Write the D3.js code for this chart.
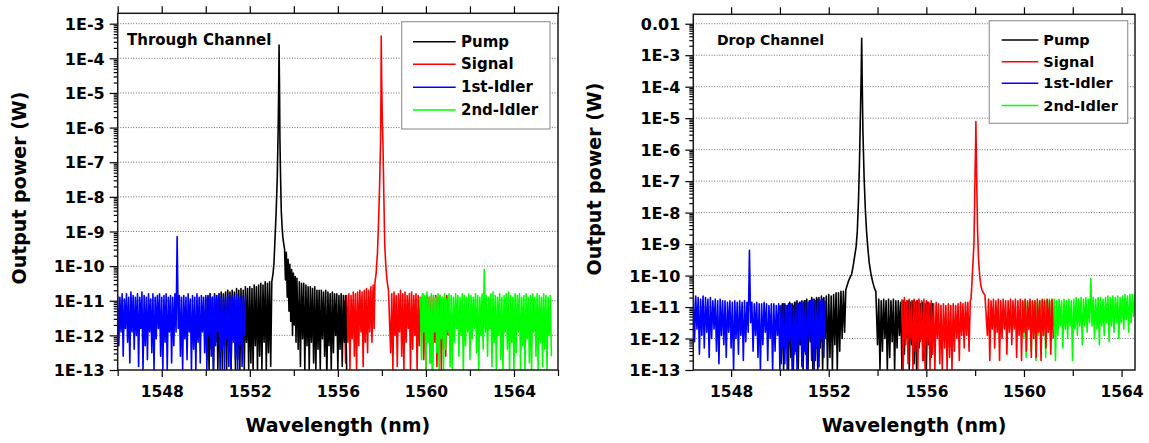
<!DOCTYPE html>
<html>
<head>
<meta charset="utf-8">
<script src="https://cdn.jsdelivr.net/npm/d3@7/dist/d3.min.js"></script>
<style>
  body { margin: 0; background: #fff; }
  text { font-family: "DejaVu Sans", Verdana, sans-serif; font-weight: bold; fill: #000; }
</style>
</head>
<body>
<svg id="chart" width="1149" height="443"></svg>
<script>
// sample spacing of the noise floor (nm)
const STEP = 0.05;

const seriesNames = ['Pump', 'Signal', '1st-Idler', '2nd-Idler'];
const seriesColors = ['#000000', '#ff0000', '#0000ff', '#00ff00'];

const xMajor = [1548, 1552, 1556, 1560, 1564];
const xMinor = [1546, 1550, 1554, 1558, 1562, 1566];
const thYLabels = ['1E-13', '1E-12', '1E-11', '1E-10', '1E-9', '1E-8', '1E-7', '1E-6', '1E-5', '1E-4', '1E-3'];
const drYLabels = ['1E-13', '1E-12', '1E-11', '1E-10', '1E-9', '1E-8', '1E-7', '1E-6', '1E-5', '1E-4', '1E-3', '0.01'];

// ---- Through channel, values are log10(power in W) ----
const thBlue = { start: 1546.0, log: [
  -10.85,-12.3,-10.9,-11.9,-10.8,-12.6,-10.95,-11.8,-10.8,-12.2,
  -10.9,-12.8,-10.75,-11.9,-10.85,-12.4,-10.9,-12.0,-10.8,-12.9,
  -10.9,-11.8,-10.75,-13.0,-10.85,-12.3,-10.9,-12.7,-10.8,-11.9,
  -10.95,-12.5,-10.8,-13.0,-10.9,-12.1,-10.85,-11.8,-10.8,-12.6,
  -10.9,-13.0,-10.85,-12.2,-10.8,-13.0,-10.9,-11.9,-10.85,-12.8,
  -10.9,-12.3,-10.8,-11.9,-9.15,-11.8,-10.85,-12.6,-10.9,-13.0,
  -10.85,-12.1,-10.9,-12.7,-10.8,-11.9,-10.95,-13.0,-10.85,-12.4,
  -10.9,-13.0,-10.8,-12.2,-10.9,-12.8,-10.85,-11.9,-10.9,-12.5,
  -10.85,-13.0,-10.9,-12.0,-10.8,-12.6,-10.9,-13.0,-10.85,-12.3,
  -10.9,-11.9,-10.8,-13.0,-10.9,-12.4,-10.85,-13.0,-10.9,-12.1,
  -10.8,-12.9,-10.9,-13.0,-10.85,-12.2,-10.9,-12.7,-10.8,-13.0,
  -10.9,-12.3,-10.85,-12.9,-10.9,-12.0,-10.85] };

const thPumpL = { start: 1550.0, log: [
  -10.9,-12.7,-10.85,-13.0,-10.8,-12.4,-10.9,-13.0,-10.8,-12.2,
  -10.85,-13.0,-10.8,-12.6,-10.75,-13.0,-10.8,-12.3,-10.75,-13.0,
  -10.7,-12.5,-10.75,-13.0,-10.7,-12.1,-10.75,-13.0,-10.65,-12.7,
  -10.7,-13.0,-10.65,-12.4,-10.7,-13.0,-10.6,-12.2,-10.65,-13.0,
  -10.6,-12.8,-10.65,-13.0,-10.55,-12.3,-10.6,-13.0,-10.55,-12.6,
  -10.5,-13.0,-10.55,-12.2,-10.45,-13.0,-10.5,-12.5,-10.45,-12.9] };
const thPumpPeak = [[1553.00,-10.45],[1553.06,-10.2],[1553.10,-9.9],[1553.14,-9.3],[1553.20,-8.4],
  [1553.25,-7.4],[1553.29,-6.0],[1553.31,-5.0],[1553.33,-3.62],[1553.35,-4.8],[1553.37,-6.4],
  [1553.40,-7.5],[1553.43,-8.4],[1553.47,-8.9],[1553.50,-9.15],[1553.54,-9.35],[1553.58,-9.5],
  [1553.62,-10.4],[1553.66,-9.6],[1553.70,-10.9],[1553.74,-9.8],[1553.78,-11.3],[1553.82,-9.95],
  [1553.86,-11.6],[1553.90,-10.1],[1553.94,-12.0],[1553.98,-10.2],[1554.02,-11.7],[1554.06,-10.3],
  [1554.10,-12.2],[1554.14,-10.35]];
const thPumpR = { start: 1554.2, log: [
  -12.4,-10.45,-12.9,-10.5,-12.1,-10.5,-13.0,-10.55,-12.3,-10.6,
  -13.0,-10.6,-12.2,-10.65,-12.8,-10.6,-13.0,-10.7,-12.4,-10.7,
  -13.0,-10.7,-12.1,-10.75,-12.6,-10.7,-13.3,-10.75,-12.3,-10.8,
  -13.0,-10.75,-12.5,-10.8,-12.0,-10.8,-13.0,-10.85,-12.4,-10.8,
  -12.9,-10.85,-12.2,-10.85,-13.0] };

const thRedL = { start: 1556.3, log: [
  -11.0,-12.8,-10.85,-12.2,-10.8,-13.0,-10.85,-12.1,-10.75,-12.6,
  -10.8,-13.0,-10.75,-12.3,-10.7,-11.9,-10.75,-12.9,-10.7,-12.2,
  -10.65,-12.5,-10.7,-11.9,-10.6,-12.2,-10.55,-11.8] };
const thRedPeak = [[1557.68,-10.5],[1557.74,-10.2],[1557.80,-9.6],[1557.85,-8.7],[1557.90,-7.6],
  [1557.94,-6.4],[1557.96,-5.0],[1557.97,-3.36],[1557.99,-4.6],[1558.02,-5.8],[1558.05,-6.5],
  [1558.09,-8.0],[1558.13,-9.4],[1558.18,-10.0],[1558.24,-10.45],[1558.30,-10.7]];
const thRedR = { start: 1558.4, log: [
  -12.5,-10.8,-13.0,-10.75,-12.0,-10.85,-12.9,-10.8,-11.9,-10.7,
  -12.6,-10.8,-13.0,-10.75,-12.2,-10.85,-11.8,-10.8,-13.0,-10.75,
  -12.4,-10.85,-12.0,-10.8,-13.0,-10.85,-12.3,-10.9,-11.9,-10.8,
  -12.7,-10.9,-13.0,-10.85,-12.1,-10.9,-12.8,-10.85,-13.0,-10.9,
  -12.2,-10.85,-12.9,-10.9,-11.9,-10.85,-13.0,-10.9,-12.4,-10.9,
  -12.6,-10.85,-12.0] };

const thGreen = { start: 1559.75, log: [
  -10.9,-12.7,-10.8,-11.9,-10.85,-13.0,-10.75,-12.2,-10.9,-12.8,
  -10.8,-13.0,-10.85,-11.9,-10.9,-12.5,-10.8,-13.0,-10.85,-12.1,
  -10.9,-13.0,-10.8,-12.4,-10.95,-11.9,-10.8,-12.9,-10.85,-13.0,
  -10.9,-12.2,-10.8,-11.8,-10.85,-12.6,-10.9,-12.0,-10.8,-13.0,
  -10.85,-12.3,-10.9,-11.9,-10.8,-12.7,-10.85,-12.1,-10.9,-11.8,
  -10.8,-12.5,-10.85,-13.0,-10.9,-12.0,-10.8,-12.4,-10.1,-11.9,
  -10.85,-12.6,-10.9,-11.8,-10.8,-12.9,-10.75,-12.2,-10.85,-13.0,
  -10.9,-12.0,-10.8,-12.7,-10.9,-13.0,-10.85,-11.9,-10.8,-12.4,
  -10.75,-13.0,-10.85,-12.2,-10.9,-13.0,-10.8,-12.5,-10.85,-11.9,
  -10.8,-13.0,-10.9,-12.3,-10.85,-13.0,-10.8,-12.1,-10.9,-12.8,
  -10.85,-13.0,-10.8,-11.9,-10.9,-12.6,-10.8,-13.0,-10.85,-12.2,
  -10.9,-12.9,-10.8,-12.4,-10.85,-13.0,-10.9,-12.0,-10.85,-12.6] };

// ---- Drop channel ----
const drBlue = { start: 1546.45, log: [
  -10.7,-12.1,-10.65,-11.7,-10.7,-12.5,-10.75,-11.9,-10.65,-12.3,
  -10.7,-11.8,-10.75,-12.6,-10.7,-12.0,-10.8,-11.7,-10.75,-12.4,
  -10.8,-12.8,-10.75,-11.9,-10.8,-12.2,-10.8,-12.6,-10.85,-11.8,
  -10.8,-12.3,-10.85,-13.0,-10.8,-12.0,-10.85,-12.5,-10.8,-11.9,
  -10.85,-12.7,-10.8,-12.1,-10.85,-11.8,-9.2,-11.5,-10.85,-12.4,
  -10.9,-11.9,-10.85,-12.6,-10.9,-13.0,-10.9,-12.2,-10.85,-11.8,
  -10.9,-12.7,-10.95,-12.0,-10.9,-13.0,-10.9,-12.4,-10.95,-11.9,
  -10.9,-13.0,-10.95,-12.3,-10.9,-12.8,-10.95,-13.0,-10.9,-12.1,
  -10.9,-13.0,-10.95,-12.5,-10.85,-13.0,-10.9,-12.2,-10.85,-12.9,
  -10.85,-12.4,-10.8,-13.0,-10.85,-12.0,-10.8,-12.7,-10.75,-13.0,
  -10.8,-12.3,-10.75,-12.9,-10.8,-12.1,-10.75,-12.6,-10.8] };

const drPumpL = { start: 1550.0, log: [
  -10.95,-12.8,-10.9,-13.0,-10.9,-12.3,-10.95,-13.0,-10.85,-12.6,
  -10.9,-13.0,-10.85,-12.4,-10.8,-13.0,-10.85,-12.2,-10.8,-13.0,
  -10.8,-12.5,-10.75,-13.0,-10.8,-12.1,-10.7,-13.0,-10.75,-12.7,
  -10.7,-13.0,-10.7,-12.3,-10.65,-13.0,-10.7,-12.0,-10.65,-13.0,
  -10.6,-12.6,-10.65,-13.0,-10.6,-12.2,-10.55,-13.0,-10.55,-12.4,
  -10.5,-12.0,-10.5,-11.8] };
const drPumpPeak = [[1552.70,-10.45],[1552.76,-10.3],[1552.82,-10.15],[1552.88,-10.05],[1552.94,-9.95],
  [1553.00,-9.7],[1553.06,-9.4],[1553.12,-9.1],[1553.17,-8.6],[1553.22,-7.6],[1553.26,-6.4],
  [1553.30,-4.8],[1553.33,-3.6],[1553.35,-2.46],[1553.37,-3.7],[1553.40,-5.4],[1553.45,-6.9],
  [1553.50,-7.9],[1553.55,-8.6],[1553.60,-9.1],[1553.66,-9.6],[1553.73,-9.95],[1553.80,-10.2],
  [1553.87,-10.4],[1553.93,-10.5]];
const drPumpR = { start: 1554.0, log: [
  -12.2,-10.75,-13.0,-10.8,-12.4,-10.75,-12.0,-10.8,-13.0,-10.75,
  -12.6,-10.8,-12.1,-10.75,-13.0,-10.8,-12.3,-10.8,-11.9,-10.85,
  -13.0,-10.8,-12.5,-10.85,-12.0,-10.8,-13.0,-10.85,-12.2,-10.8,
  -12.8,-10.85,-13.0,-10.8,-12.3,-10.9,-12.0,-10.85,-12.7,-10.9,
  -13.0,-10.85,-12.2,-10.9,-12.6,-10.9,-12.0] };

const drRedL = { start: 1555.0, log: [
  -10.75,-13.0,-10.7,-12.2,-10.8,-12.8,-10.75,-12.0,-10.8,-13.0,
  -10.75,-12.4,-10.8,-13.0,-10.75,-12.1,-10.8,-12.7,-10.75,-13.0,
  -10.8,-12.2,-10.85,-13.0,-10.8,-12.5,-10.9,-13.0,-10.85,-12.0,
  -10.9,-12.8,-10.95,-13.0,-10.9,-12.3,-10.95,-13.0,-10.9,-12.6,
  -10.95,-13.0,-10.9,-12.4,-10.95,-12.0,-10.9,-12.7,-10.85,-11.9,
  -10.9,-12.3,-10.85,-11.9,-10.85,-12.4,-10.8] };
const drRedPeak = [[1557.83,-10.75],[1557.87,-10.2],[1557.91,-9.6],[1557.95,-9.0],[1557.98,-7.6],
  [1558.00,-6.6],[1558.02,-5.8],[1558.03,-5.11],[1558.05,-6.2],[1558.07,-7.3],[1558.10,-8.6],
  [1558.14,-9.5],[1558.18,-9.95],[1558.23,-10.3],[1558.28,-10.46],[1558.34,-10.55],[1558.40,-10.62]];
const drRedR = { start: 1558.5, log: [
  -11.9,-10.75,-12.7,-10.8,-11.7,-10.75,-12.3,-10.8,-11.8,-10.75,
  -12.7,-10.8,-12.0,-10.75,-11.7,-10.8,-12.5,-10.8,-11.8,-10.75,
  -12.2,-10.8,-11.7,-10.75,-12.6,-10.8,-11.9,-10.75,-12.7,-10.8,
  -11.8,-10.75,-12.4,-10.8,-11.7,-10.75,-12.6,-10.8,-12.0,-10.8,
  -12.6,-10.75,-11.8,-10.8,-12.7,-10.75,-11.9,-10.8,-12.3,-10.75,
  -11.8,-10.8,-12.5,-10.75,-12.0] };

const drGreen = { start: 1559.94, log: [
  -10.85,-12.0,-10.8,-12.6,-10.85,-11.7,-10.8,-12.4,-10.85,-11.8,
  -10.8,-12.7,-10.85,-11.9,-10.8,-12.2,-10.8,-11.7,-10.75,-12.6,
  -10.8,-11.8,-10.75,-12.1,-10.8,-11.6,-10.75,-12.7,-10.8,-11.9,
  -10.75,-11.6,-10.8,-12.3,-10.75,-11.7,-10.8,-12.0,-10.75,-11.6,
  -10.8,-12.7,-10.75,-11.7,-10.7,-11.9,-10.75,-11.6,-10.7,-12.2,
  -10.75,-11.6,-10.7,-11.8,-10.75,-11.5,-10.1,-11.6,-10.7,-12.0,
  -10.75,-11.7,-10.7,-12.2,-10.7,-11.6,-10.75,-11.9,-10.7,-11.5,
  -10.65,-12.1,-10.7,-11.6,-10.65,-11.8,-10.7,-11.5,-10.65,-12.0,
  -10.7,-11.5,-10.65,-11.7,-10.6,-11.4,-10.65,-11.8,-10.6,-11.5,
  -10.6,-11.3,-10.6] };

function buildSeries(segments, peak) {
  const pts = [];
  segments.forEach(seg => seg.log.forEach((v, i) => pts.push([+(seg.start + i * STEP).toFixed(3), v])));
  (peak || []).forEach(p => pts.push(p));
  return pts.sort((a, b) => a[0] - b[0]);
}

const svg = d3.select('#chart');

const panels = [
  {
    id: 'th', left: 117.7, right: 558, top: 13.3, bottom: 370,
    xDomain: [1546, 1566], yTop: -2.7, yLabels: thYLabels, title: 'Through Channel',
    titleX: 127, titleSize: 15, yTitleX: 25.5, yTitleY: 188,
    legend: { x0: 401.7, x1: 550, y0: 21.7, y1: 129, lx0: 413, lx1: 455.7, tx: 461, rows: [41.7, 64.3, 87.3, 110], size: 15 },
    // drawing order: signal, pump, 1st idler, 2nd idler
    layers: [
      { c: 1, d: buildSeries([thRedL, thRedR], thRedPeak) },
      { c: 0, d: buildSeries([thPumpL, thPumpR], thPumpPeak) },
      { c: 2, d: buildSeries([thBlue]) },
      { c: 3, d: buildSeries([thGreen]) }
    ]
  },
  {
    id: 'dr', left: 693.3, right: 1135, top: 14.3, bottom: 370,
    xDomain: [1546.45, 1564.55], yTop: -1.7, yLabels: drYLabels, title: 'Drop Channel',
    titleX: 717, titleSize: 14, yTitleX: 600.5, yTitleY: 179,
    legend: { x0: 989.3, x1: 1127.7, y0: 20.7, y1: 123.3, lx0: 1001.7, lx1: 1038.3, tx: 1043.3, rows: [40, 61.7, 83.3, 105.5], size: 14.5 },
    layers: [
      { c: 0, d: buildSeries([drPumpL, drPumpR], drPumpPeak) },
      { c: 3, d: buildSeries([drGreen]) },
      { c: 1, d: buildSeries([drRedL, drRedR], drRedPeak) },
      { c: 2, d: buildSeries([drBlue]) }
    ]
  }
];

panels.forEach(p => {
  const x = d3.scaleLinear().domain(p.xDomain).range([p.left, p.right]);
  const y = d3.scaleLog().domain([1e-13, Math.pow(10, p.yTop)]).range([p.bottom, p.top]);
  const g = svg.append('g');

  const majors = p.yLabels.map((_, i) => Math.pow(10, -13 + i));
  const minors = [];
  for (let k = -13; k < p.yTop; k++) {
    for (let m = 2; m <= 9; m++) {
      const v = m * Math.pow(10, k);
      if (v < Math.pow(10, p.yTop)) minors.push(v);
    }
  }

  // dotted grid at decades
  g.append('g').selectAll('line').data(majors.slice(1)).enter().append('line')
    .attr('x1', p.left).attr('x2', p.right)
    .attr('y1', d => y(d)).attr('y2', d => y(d))
    .attr('stroke', '#6e6e6e').attr('stroke-width', 1).attr('stroke-dasharray', '1,1.6');

  // spectra
  g.append('clipPath').attr('id', 'clip-' + p.id).append('rect')
    .attr('x', p.left).attr('y', p.top).attr('width', p.right - p.left).attr('height', p.bottom - p.top + 0.5);
  const line = d3.line().x(d => x(d[0])).y(d => y(Math.pow(10, d[1])));
  g.append('g').attr('clip-path', `url(#clip-${p.id})`)
    .selectAll('path').data(p.layers).enter().append('path')
    .attr('d', d => line(d.d))
    .attr('fill', 'none')
    .attr('stroke', d => seriesColors[d.c])
    .attr('stroke-width', 1.6)
    .attr('stroke-linejoin', 'round');

  // axes
  const styleAxis = sel => {
    sel.select('.domain').remove();
    sel.selectAll('line').attr('stroke', '#000').attr('stroke-width', 1.2);
  };
  g.append('g').attr('transform', `translate(${p.left},0)`)
    .call(d3.axisLeft(y).tickValues(minors).tickSize(4).tickFormat(''))
    .call(styleAxis);
  const yAx = g.append('g').attr('transform', `translate(${p.left},0)`)
    .call(d3.axisLeft(y).tickValues(majors).tickSize(8).tickPadding(5).tickFormat((d, i) => p.yLabels[i]))
    .call(styleAxis);
  yAx.selectAll('text').attr('font-size', 16).attr('dy', '0.36em');

  const xMin = xMinor.filter(v => v >= p.xDomain[0] && v <= p.xDomain[1]);
  g.append('g').attr('transform', `translate(0,${p.bottom})`)
    .call(d3.axisBottom(x).tickValues(xMin).tickSize(6).tickFormat(''))
    .call(styleAxis);
  const xAx = g.append('g').attr('transform', `translate(0,${p.bottom})`)
    .call(d3.axisBottom(x).tickValues(xMajor).tickSize(7).tickFormat(d3.format('d')))
    .call(styleAxis);
  xAx.selectAll('text').attr('font-size', 15.5).attr('y', 27).attr('dy', 0);
  g.append('g').attr('transform', `translate(0,${p.top})`)
    .call(d3.axisTop(x).tickValues(xMajor.concat(xMin)).tickSize(7).tickFormat(''))
    .call(styleAxis);

  // frame
  g.append('rect').attr('x', p.left).attr('y', p.top)
    .attr('width', p.right - p.left).attr('height', p.bottom - p.top)
    .attr('fill', 'none').attr('stroke', '#1a1a1a').attr('stroke-width', 1.5);

  // titles
  g.append('text').attr('x', (p.left + p.right) / 2).attr('y', 432)
    .attr('text-anchor', 'middle').attr('font-size', 19).text('Wavelength (nm)');
  g.append('text').attr('transform', `translate(${p.yTitleX},${p.yTitleY}) rotate(-90)`)
    .attr('text-anchor', 'middle').attr('font-size', 19).text('Output power (W)');
  g.append('text').attr('x', p.titleX).attr('y', 45).attr('font-size', p.titleSize).text(p.title);

  // legend
  const L = p.legend;
  g.append('rect').attr('x', L.x0).attr('y', L.y0).attr('width', L.x1 - L.x0).attr('height', L.y1 - L.y0)
    .attr('fill', '#fff').attr('stroke', '#9a9a9a').attr('stroke-width', 1.2);
  const rows = g.append('g').selectAll('g').data(seriesNames).enter().append('g');
  rows.append('line').attr('x1', L.lx0).attr('x2', L.lx1)
    .attr('y1', (d, i) => L.rows[i]).attr('y2', (d, i) => L.rows[i])
    .attr('stroke', (d, i) => seriesColors[i]).attr('stroke-width', 1.5);
  rows.append('text').attr('x', L.tx).attr('y', (d, i) => L.rows[i] + 5)
    .attr('font-size', L.size).text(d => d);
});
</script>
</body>
</html>
